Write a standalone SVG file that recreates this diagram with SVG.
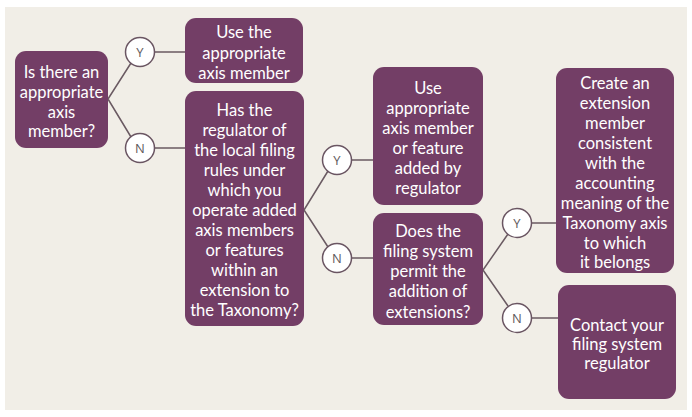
<svg xmlns="http://www.w3.org/2000/svg" width="692" height="417" viewBox="0 0 692 417">
<style>
.bg{fill:#f1eee7}
.box{fill:#733e66}
.t{fill:#ffffff;font-family:Lato,"Open Sans",sans-serif;font-size:16.5px;text-anchor:middle}
.c{fill:#ffffff;stroke:#6a5562;stroke-width:1.5}
.ct{fill:#5f5a5c;font-family:"Open Sans",sans-serif;font-size:13px;text-anchor:middle}
.ln{stroke:#6a5a62;stroke-width:1.5;fill:none}
</style>
<rect class="bg" x="5" y="7" width="682" height="403"/>
<g id="connectors">
<path class="ln" d="M108 99 L131 63 M108 99 L131 137 M155 52 H185 M155 148 H185"/>
<path class="ln" d="M304 210 L328 171 M304 210 L328 247 M352 160 H373 M352 258 H373"/>
<path class="ln" d="M483 270 L508 234 M483 270 L508 306 M532 223 H556 M532 318 H558"/>
</g>
<g id="n1"><rect class="box" x="15" y="51" width="93" height="97" rx="11"/>
<text class="t"><tspan x="61.5" y="78">Is there an</tspan><tspan x="61.5" y="98">appropriate</tspan><tspan x="61.5" y="118">axis</tspan><tspan x="61.5" y="137">member?</tspan></text></g>
<g id="n2"><rect class="box" x="185" y="18" width="118" height="65" rx="11"/>
<text class="t"><tspan x="244" y="38">Use the</tspan><tspan x="244" y="59">appropriate</tspan><tspan x="244" y="79">axis member</tspan></text></g>
<g id="n3"><rect class="box" x="185" y="91" width="119" height="235" rx="11"/>
<text class="t"><tspan x="244.5" y="116">Has the</tspan><tspan x="244.5" y="136">regulator of</tspan><tspan x="244.5" y="156">the local filing</tspan><tspan x="244.5" y="176">rules under</tspan><tspan x="244.5" y="196">which you</tspan><tspan x="244.5" y="216">operate added</tspan><tspan x="244.5" y="236">axis members</tspan><tspan x="244.5" y="256">or features</tspan><tspan x="244.5" y="276">within an</tspan><tspan x="244.5" y="296">extension to</tspan><tspan x="244.5" y="316">the Taxonomy?</tspan></text></g>
<g id="n4"><rect class="box" x="373" y="67" width="110" height="138" rx="11"/>
<text class="t"><tspan x="428" y="94">Use</tspan><tspan x="428" y="114">appropriate</tspan><tspan x="428" y="134">axis member</tspan><tspan x="428" y="154">or feature</tspan><tspan x="428" y="174">added by</tspan><tspan x="428" y="194">regulator</tspan></text></g>
<g id="n5"><rect class="box" x="373" y="213" width="110" height="112" rx="11"/>
<text class="t"><tspan x="428" y="237">Does the</tspan><tspan x="428" y="257">filing system</tspan><tspan x="428" y="277">permit the</tspan><tspan x="428" y="297">addition of</tspan><tspan x="428" y="318">extensions?</tspan></text></g>
<g id="n6"><rect class="box" x="556" y="68" width="118" height="205" rx="11"/>
<text class="t"><tspan x="615" y="89">Create an</tspan><tspan x="615" y="109">extension</tspan><tspan x="615" y="129">member</tspan><tspan x="615" y="149">consistent</tspan><tspan x="615" y="169">with the</tspan><tspan x="615" y="189">accounting</tspan><tspan x="615" y="209">meaning of the</tspan><tspan x="615" y="229">Taxonomy axis</tspan><tspan x="615" y="249">to which</tspan><tspan x="615" y="268">it belongs</tspan></text></g>
<g id="n7"><rect class="box" x="558" y="285" width="118" height="114" rx="11"/>
<text class="t"><tspan x="617" y="331">Contact your</tspan><tspan x="617" y="350">filing system</tspan><tspan x="617" y="369">regulator</tspan></text></g>
<g id="y1"><circle class="c" cx="140" cy="52" r="14.5"/><text class="ct" x="140" y="57">Y</text></g>
<g id="no1"><circle class="c" cx="140" cy="148" r="14.5"/><text class="ct" x="140" y="153">N</text></g>
<g id="y2"><circle class="c" cx="337" cy="160" r="14.5"/><text class="ct" x="337" y="165">Y</text></g>
<g id="no2"><circle class="c" cx="337" cy="258" r="14.5"/><text class="ct" x="337" y="263">N</text></g>
<g id="y3"><circle class="c" cx="517" cy="223" r="14.5"/><text class="ct" x="517" y="228">Y</text></g>
<g id="no3"><circle class="c" cx="517" cy="318" r="14.5"/><text class="ct" x="517" y="323">N</text></g>
</svg>
